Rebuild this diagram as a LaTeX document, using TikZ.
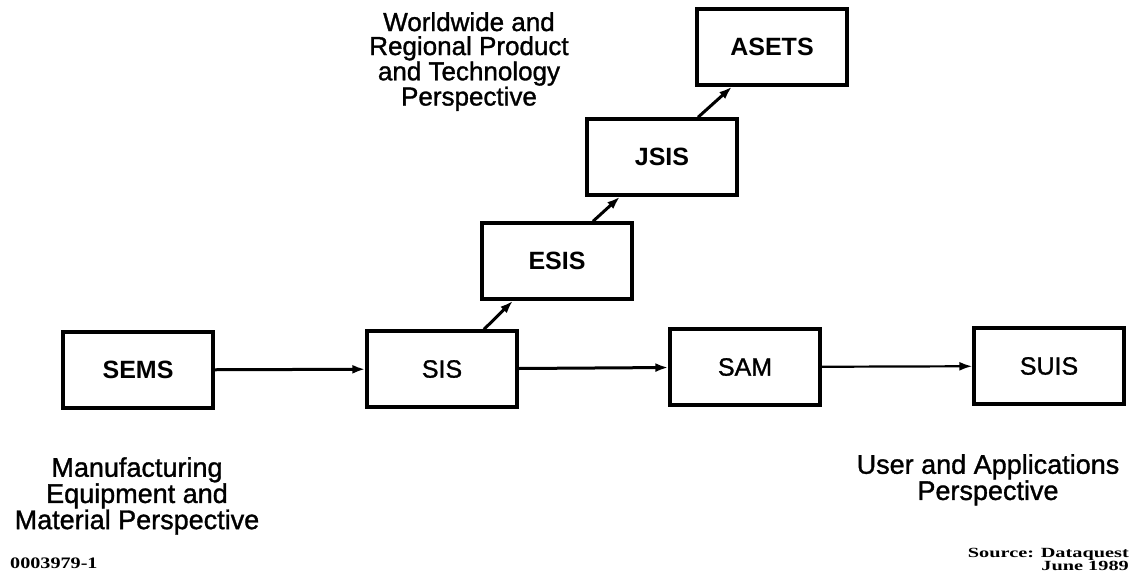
\documentclass[tikz,border=0pt]{standalone}
\usepackage{fontspec}
\setmainfont{Liberation Sans}
\newfontfamily\srcfont{Liberation Serif}
\newfontfamily\heavysans[FakeBold=1.2]{Liberation Sans}
\usetikzlibrary{arrows.meta, calc}

\begin{document}
\begin{tikzpicture}[
    x=1pt, y=-1pt,
    unit/.style={draw, rectangle, line width=3.4pt, minimum width=150pt, minimum height=76pt, inner sep=0pt, font=\heavysans\fontsize{25}{25}\selectfont},
    unitb/.style={unit, font=\fontsize{25}{25}\selectfont\bfseries},
    persp/.style={inner sep=0pt, align=center, anchor=north},
    arrow/.style={-{Latex[length=13pt,width=9pt]}, line width=3pt}
]
\useasboundingbox (0,0) rectangle (1130,574);

% main row
\node[unitb] (sems) at (138,370) {SEMS};
\node[unit]  (sis)  at (442,369) {SIS};
\node[unit]  (sam)  at (745,367) {SAM};
\node[unit]  (suis) at (1049,366) {SUIS};

% regional staircase
\node[unitb] (esis)  at (557,261) {ESIS};
\node[unitb] (jsis)  at (662,157) {JSIS};
\node[unitb] (asets) at (772,47) {ASETS};

\draw[arrow] (sems) -- (sis);
\draw[arrow] (sis) -- (sam);
\draw[arrow, line width=2.2pt] (sam) -- (suis);
\draw[arrow] ([xshift=42pt]sis.north) -- ([xshift=-44pt]esis.south);
\draw[arrow] ([xshift=36pt]esis.north) -- ([xshift=-42pt]jsis.south);
\draw[arrow] ([xshift=36pt]jsis.north) -- ([xshift=-40pt]asets.south);

% perspectives
\node[persp, font=\heavysans\fontsize{26}{24}\selectfont] (world) at (469,12)
    {Worldwide and\\ Regional Product\\ and Technology\\ Perspective};
\node[persp, font=\heavysans\fontsize{27}{25}\selectfont] (manuf) at (137,457)
    {Manufacturing\\ Equipment and\\ Material Perspective};
\node[persp, font=\heavysans\fontsize{27}{23}\selectfont] (user) at (988,454)
    {User and Applications\\ Perspective};

% figure footer
\node[inner sep=0pt, anchor=base west, font=\srcfont\bfseries\fontsize{16}{16}\selectfont] (fignum) at (10,568)
    {\scalebox{1.26}[1]{0003979-1}};
\node[inner sep=0pt, anchor=north east, align=right, font=\srcfont\bfseries\fontsize{14}{13}\selectfont] (source) at (1129,548)
    {\scalebox{1.45}[1]{Source: Dataquest}\\ \scalebox{1.45}[1]{June 1989}};
\end{tikzpicture}
\end{document}
